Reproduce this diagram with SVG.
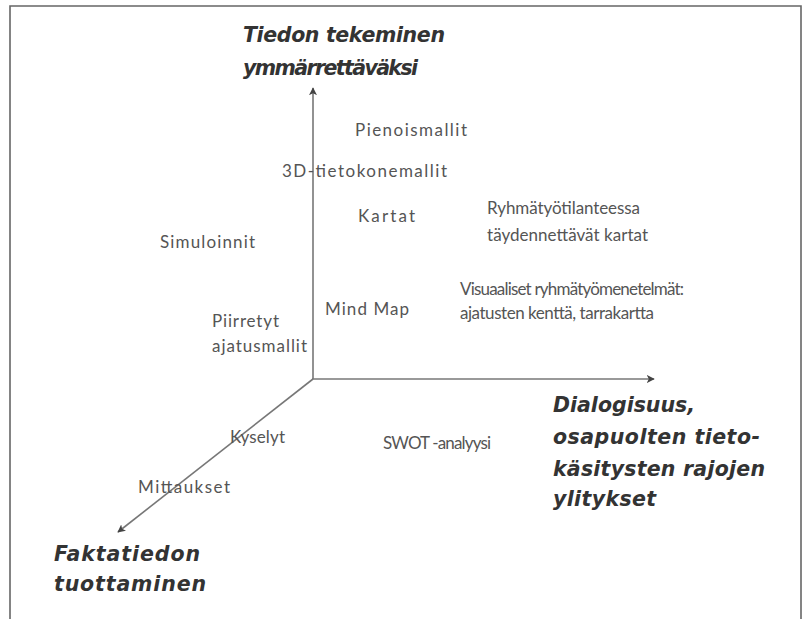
<svg xmlns="http://www.w3.org/2000/svg" width="805" height="619" viewBox="0 0 805 619">
<defs>
<marker id="arr" viewBox="0 0 10 10" refX="9" refY="5" markerWidth="8" markerHeight="8" orient="auto" markerUnits="userSpaceOnUse">
<path d="M0,0 L10,5 L0,10 L2.5,5 Z" fill="#444"/>
</marker>
<style>
.h{font-family:"DejaVu Sans",sans-serif;font-weight:bold;font-style:oblique;font-size:20.5px;fill:#333}
.t{font-family:Lato,"Open Sans",sans-serif;font-size:17px;fill:#555}
.ax{stroke:#777;stroke-width:1.6;fill:none}
</style>
</defs>
<rect width="805" height="619" fill="#fff"/>
<path d="M10,619 V6 H801 V619" fill="none" stroke="#666" stroke-width="1.6"/>
<g id="connectors">
<line class="ax" x1="313" y1="379" x2="313" y2="88" marker-end="url(#arr)"/>
<line class="ax" x1="312" y1="379" x2="654" y2="379" marker-end="url(#arr)"/>
<line class="ax" x1="313" y1="379" x2="118" y2="532" marker-end="url(#arr)"/>
</g>
<g id="axis-y"><text class="h" x="243" y="42" textLength="202">Tiedon tekeminen</text><text class="h" x="243" y="75" textLength="175">ymmärrettäväksi</text></g>
<g id="axis-x"><text class="h" x="553" y="412" textLength="142">Dialogisuus,</text><text class="h" x="553" y="444" textLength="207">osapuolten tieto-</text><text class="h" x="553" y="476" textLength="212">käsitysten rajojen</text><text class="h" x="553" y="506" textLength="103">ylitykset</text></g>
<g id="axis-z"><text class="h" x="54" y="561" textLength="146">Faktatiedon</text><text class="h" x="54" y="591" textLength="152">tuottaminen</text></g>
<g id="n1"><text class="t" x="355" y="136" textLength="112">Pienoismallit</text></g>
<g id="n2"><text class="t" x="282" y="177" textLength="165">3D-tietokonemallit</text></g>
<g id="n3"><text class="t" x="358" y="222" textLength="57">Kartat</text></g>
<g id="n4"><text class="t" x="487" y="214" textLength="153">Ryhmätyötilanteessa</text><text class="t" x="487" y="241" textLength="161">täydennettävät kartat</text></g>
<g id="n5"><text class="t" x="160" y="248" textLength="95">Simuloinnit</text></g>
<g id="n6"><text class="t" x="460" y="295" textLength="224">Visuaaliset ryhmätyömenetelmät:</text><text class="t" x="460" y="319" textLength="194">ajatusten kenttä, tarrakartta</text></g>
<g id="n7"><text class="t" x="325" y="315" textLength="84">Mind Map</text></g>
<g id="n8"><text class="t" x="212" y="327" textLength="67">Piirretyt</text><text class="t" x="212" y="352" textLength="95">ajatusmallit</text></g>
<g id="n9"><text class="t" x="230" y="443" textLength="55">Kyselyt</text></g>
<g id="n10"><text class="t" x="383" y="449" textLength="108">SWOT -analyysi</text></g>
<g id="n11"><text class="t" x="138" y="493" textLength="92">Mittaukset</text></g>
</svg>
